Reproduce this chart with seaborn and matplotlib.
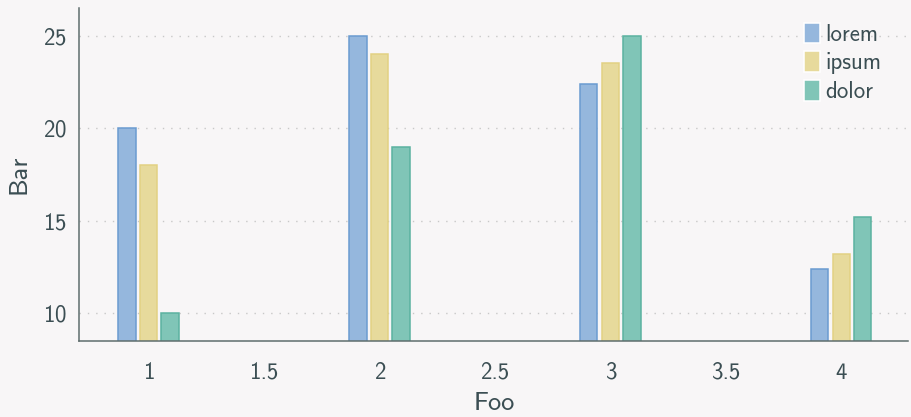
import matplotlib
matplotlib.use('Agg')
import matplotlib.pyplot as plt
import pandas as pd
import seaborn as sns

positions = [1, 2, 3, 4]
series = ['lorem', 'ipsum', 'dolor']
lorem = [20, 25, 22.4, 12.4]
ipsum = [18, 24, 23.5, 13.2]
dolor = [10, 19, 25, 15.2]

fills = {'lorem': '#95b7dd', 'ipsum': '#e7da9c', 'dolor': '#80c5b7'}
edges = {'lorem': '#6a9bd0', 'ipsum': '#e2d183', 'dolor': '#5bb2a0'}

text_color = '#3b4e53'
bg = '#f8f6f7'

sns.set_theme(style='white')
plt.rcParams['font.family'] = ['cmss10', 'DejaVu Sans']
plt.rcParams['axes.formatter.use_mathtext'] = True
plt.rcParams['text.color'] = text_color
plt.rcParams['axes.labelcolor'] = text_color
plt.rcParams['xtick.color'] = '#8a9090'
plt.rcParams['ytick.color'] = '#8a9090'
plt.rcParams['xtick.labelcolor'] = text_color
plt.rcParams['ytick.labelcolor'] = text_color

df = pd.DataFrame({
    'Foo': positions * 3,
    'Bar': lorem + ipsum + dolor,
    'series': [s for s in series for _ in positions],
})

fig = plt.figure(figsize=(9.11, 4.17), dpi=100, facecolor=bg)
ax = fig.add_axes([0.087, 0.182, 0.91, 0.799])
ax.set_facecolor(bg)

sns.barplot(data=df, x='Foo', y='Bar', hue='series', hue_order=series,
            native_scale=True, width=0.28, gap=0.2, palette=fills,
            saturation=1, linewidth=1.1, ax=ax)

for bars, s in zip(ax.containers, series):
    for b in bars:
        b.set_edgecolor(edges[s])

ax.set_xlim(0.70, 4.29)
ax.set_ylim(8.5, 26.5)
ax.set_xticks([1, 1.5, 2, 2.5, 3, 3.5, 4])
ax.set_xticklabels(['1', '1.5', '2', '2.5', '3', '3.5', '4'])
ax.set_yticks([10, 15, 20, 25])

ax.yaxis.grid(True, linestyle=(0, (1, 5)), color='#c8c8c8', linewidth=1.0)
ax.set_axisbelow(True)

for side in ['top', 'right']:
    ax.spines[side].set_visible(False)
for side in ['left', 'bottom']:
    ax.spines[side].set_color('#5f6d6d')
    ax.spines[side].set_linewidth(1.1)

ax.tick_params(axis='x', length=8, width=1.1, labelsize=16.5,
               direction='out', pad=7)
ax.tick_params(axis='y', length=8, width=1.1, labelsize=16.5,
               direction='in', pad=9)
ax.set_xlabel('Foo', fontsize=19, labelpad=6)
ax.set_ylabel('Bar', fontsize=19, labelpad=9)

leg = ax.legend(loc='upper right', frameon=False, fontsize=16.5,
                handlelength=0.7, handleheight=1.0, handletextpad=0.25,
                labelspacing=0.25, bbox_to_anchor=(0.993, 1.018))
for t in leg.get_texts():
    t.set_color(text_color)

fig.savefig('out.png', dpi=100, facecolor=bg)
